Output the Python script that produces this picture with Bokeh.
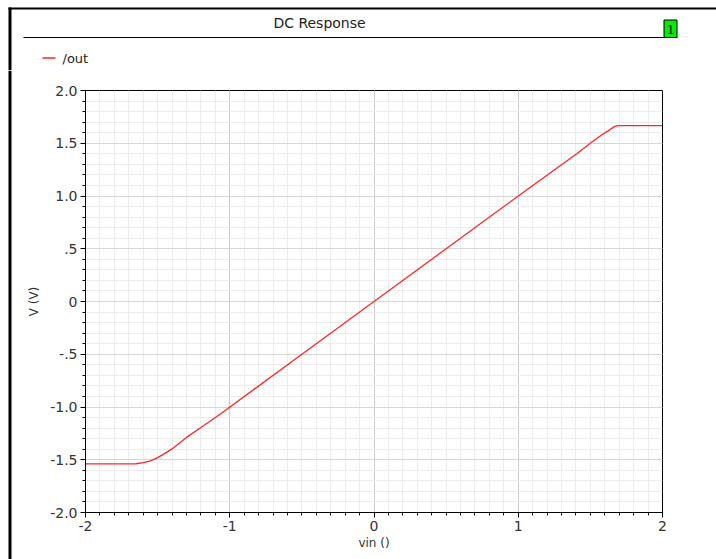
from bokeh.plotting import figure
from bokeh.layouts import column, row
from bokeh.models import Range1d, SingleIntervalTicker
from bokeh.core.properties import value
from bokeh.embed import file_html
from bokeh.resources import INLINE

# ---- data ----
vin = [-2.0, -1.8, -1.65, -1.6, -1.55, -1.5, -1.45, -1.4, -1.3, -1.18, -1.06,
       -0.5, 0.0, 0.5, 1.0, 1.41, 1.52, 1.58, 1.62, 1.65, 1.67, 1.69, 2.0]
vout = [-1.54, -1.54, -1.538, -1.528, -1.51, -1.48, -1.44, -1.397, -1.288, -1.176, -1.062,
        -0.5, 0.0, 0.5, 1.0, 1.405, 1.522, 1.58, 1.615, 1.643, 1.66, 1.668, 1.668]
x_ticks = [-2, -1, 0, 1, 2]
x_tick_labels = ["-2", "-1", "0", "1", "2"]
y_ticks = [-2.0, -1.5, -1.0, -0.5, 0.0, 0.5, 1.0, 1.5, 2.0]
y_tick_labels = ["-2.0", "-1.5", "-1.0", "-.5", "0", ".5", "1.0", "1.5", "2.0"]
title_text = "DC Response"
series_name = "/out"
badge_text = "1"
x_label = "vin ()"
y_label = "V (V)"

FONT = "DejaVu Sans"
LINE_COLOR = "#ff2626"
W, H = 716, 559
HEAD_H = 70              # height of header strip
STRIP_W = 12             # width of left border strip
FL, FT, FR, FB = 85, 90, 662, 512   # plot frame edges in page pixels

# ---------------- header (title bar, badge, legend) ----------------
hd = figure(width=W, height=HEAD_H, x_range=Range1d(0, W), y_range=Range1d(HEAD_H, 0),
            x_axis_type=None, y_axis_type=None, output_backend="svg",
            toolbar_location=None, min_border=0)
hd.frame_align = False
hd.outline_line_color = None
hd.grid.visible = False
hd.background_fill_color = "white"
hd.border_fill_color = "white"
# outer frame: left and top borders
hd.quad(left=[8], right=[11], top=[7], bottom=[HEAD_H], fill_color="black", line_color=None)
hd.quad(left=[8], right=[W], top=[7], bottom=[9], fill_color="black", line_color=None)
# title and its underline
hd.text(x=[319], y=[22], text=[title_text], text_font=value(FONT), text_font_size="14px",
        text_color="#222222", text_align="center", text_baseline="middle")
hd.segment(x0=[23], y0=[37], x1=[677], y1=[37], line_color="black", line_width=1.2)
# green badge
hd.quad(left=[663.5], right=[676.5], top=[19.5], bottom=[37], fill_color="#00f000",
        line_color="black", line_width=1)
hd.text(x=[670], y=[28.5], text=[badge_text], text_font=value(FONT), text_font_size="12px",
        text_color="black", text_align="center", text_baseline="middle")
# legend
hd.segment(x0=[42], y0=[57.5], x1=[55], y1=[57.5], line_color=LINE_COLOR, line_width=1.3)
hd.text(x=[62], y=[57.5], text=[series_name], text_font=value(FONT), text_font_size="13px",
        text_color="#222222", text_align="left", text_baseline="middle")

# ---------------- left border strip ----------------
MAIN_H = H - HEAD_H
st = figure(width=STRIP_W, height=MAIN_H, x_range=Range1d(0, STRIP_W), y_range=Range1d(MAIN_H, 0),
            x_axis_type=None, y_axis_type=None, output_backend="svg",
            toolbar_location=None, min_border=0)
st.frame_align = False
st.outline_line_color = None
st.grid.visible = False
st.background_fill_color = "white"
st.border_fill_color = "white"
st.quad(left=[8], right=[11], top=[0], bottom=[MAIN_H], fill_color="black", line_color=None)

# ---------------- main plot ----------------
p = figure(width=W - STRIP_W, height=MAIN_H, x_range=Range1d(-2, 2), y_range=Range1d(-2, 2),
           output_backend="svg", toolbar_location=None,
           min_border_left=FL - STRIP_W, min_border_right=W - FR,
           min_border_top=FT - HEAD_H, min_border_bottom=H - FB)
p.frame_align = False
p.background_fill_color = "white"
p.border_fill_color = "white"
p.outline_line_color = "black"
p.outline_line_width = 1

xt = SingleIntervalTicker(interval=1, num_minor_ticks=10)
yt = SingleIntervalTicker(interval=0.5, num_minor_ticks=5)
p.xaxis.ticker = xt
p.yaxis.ticker = yt
p.xaxis.major_label_overrides = {int(t): l for t, l in zip(x_ticks, x_tick_labels)}
p.yaxis.major_label_overrides = {float(t): l for t, l in zip(y_ticks, y_tick_labels)}
p.yaxis.major_label_overrides.update({0: "0"})
for ax in (p.xaxis, p.yaxis):
    ax.axis_line_color = "black"
    ax.major_tick_line_color = "black"
    ax.minor_tick_line_color = "black"
    ax.major_tick_in = 0
    ax.minor_tick_in = 0
    ax.major_tick_out = 5
    ax.minor_tick_out = 3
    ax.major_label_text_font = FONT
    ax.major_label_text_font_size = "14px"
    ax.major_label_text_color = "#333333"
    ax.axis_label_text_font = FONT
    ax.axis_label_text_font_size = "12px"
    ax.axis_label_text_font_style = "normal"
    ax.axis_label_text_color = "#333333"
    ax.major_label_standoff = 3
p.xaxis.axis_label = x_label
p.yaxis.axis_label = y_label
p.xaxis.axis_label_standoff = 2
p.yaxis.axis_label_standoff = 6

p.xgrid.ticker = xt
p.ygrid.ticker = yt
p.xgrid.grid_line_color = "#cccccc"
p.ygrid.grid_line_color = "#d6d6d6"
for g in (p.xgrid, p.ygrid):
    g.grid_line_width = 1
    g.minor_grid_line_color = "#ececec"
    g.minor_grid_line_width = 1

p.line(vin, vout, line_color=LINE_COLOR, line_width=1.3)

layout = column(hd, row(st, p, spacing=0), spacing=0)
open("out.html", "w").write(file_html(layout, INLINE))
